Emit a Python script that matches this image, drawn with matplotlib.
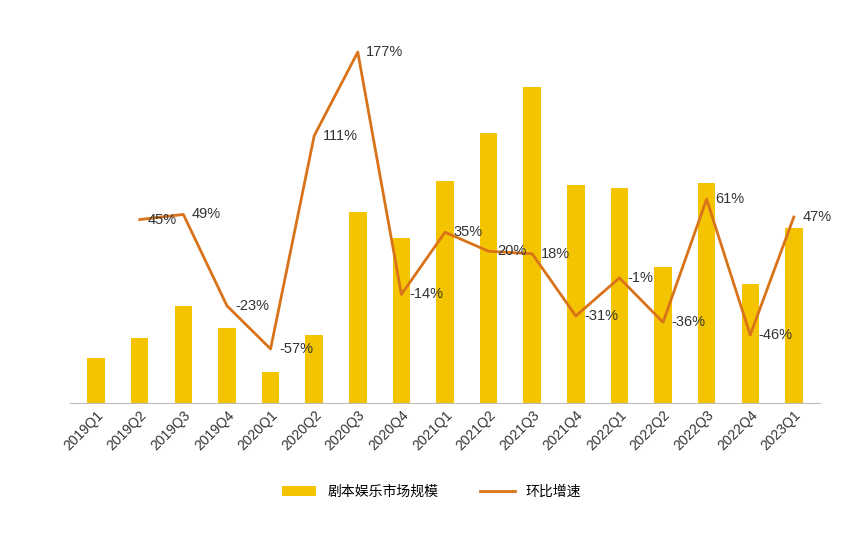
import matplotlib.pyplot as plt
import numpy as np

plt.rcParams['font.family'] = ['Liberation Sans', 'Noto Sans CJK SC']

quarters = ['2019Q1', '2019Q2', '2019Q3', '2019Q4', '2020Q1', '2020Q2', '2020Q3', '2020Q4',
            '2021Q1', '2021Q2', '2021Q3', '2021Q4', '2022Q1', '2022Q2', '2022Q3', '2022Q4', '2023Q1']
market_size = [45, 65, 97, 75, 31, 68, 191, 165, 222, 270, 316, 218, 215, 136, 220, 119, 175]
growth = [None, 45, 49, -23, -57, 111, 177, -14, 35, 20, 18, -31, -1, -36, 61, -46, 47]
growth_labels = ['', '45%', '49%', '-23%', '-57%', '111%', '177%', '-14%', '35%', '20%',
                 '18%', '-31%', '-1%', '-36%', '61%', '-46%', '47%']

fig = plt.figure(figsize=(8.63, 5.42), dpi=100)
ax = fig.add_axes([70 / 863, 139 / 542, 750 / 863, 363 / 542])
x = np.arange(len(quarters))
ax.bar(x, market_size, width=0.4, color='#f5c400', label='剧本娱乐市场规模')
ax.set_ylim(0, 363)
ax.set_xlim(-0.6, len(quarters) - 0.4)
ax.set_yticks([])
for s in ['top', 'right', 'left']:
    ax.spines[s].set_visible(False)
ax.spines['bottom'].set_color('#bbbbbb')
ax.set_xticks(x)
ax.set_xticklabels(quarters, rotation=45, ha='right', rotation_mode='anchor', fontsize=10, color='#333333')
ax.tick_params(axis='x', length=0)

ax2 = ax.twinx()
gx = [i for i, g in enumerate(growth) if g is not None]
gy = [g for g in growth if g is not None]
ax2.plot(gx, gy, color='#d9731a', lw=2, label='环比增速')
ax2.set_ylim(-99.6, 186.5)
ax2.axis('off')
for i, g in zip(gx, gy):
    ax2.annotate(growth_labels[i], (i, g), xytext=(6, 0), textcoords='offset points',
                 ha='left', va='center', fontsize=10.5, color='#333333')

h1, l1 = ax.get_legend_handles_labels()
h2, l2 = ax2.get_legend_handles_labels()
fig.legend(h1 + h2, l1 + l2, loc='center', bbox_to_anchor=(0.5, 50 / 542), ncol=2,
           frameon=False, fontsize=10, handlelength=2.5, columnspacing=3)

fig.savefig('out.png', dpi=100)
